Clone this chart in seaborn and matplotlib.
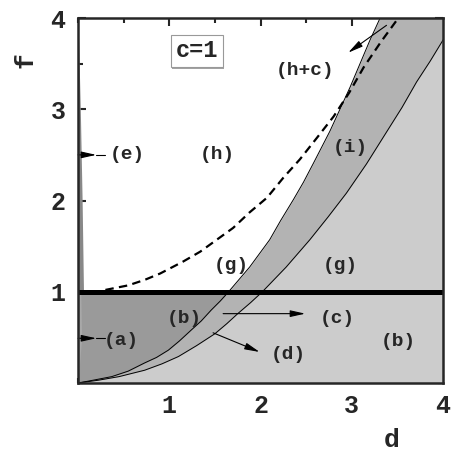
import numpy as np
import matplotlib
matplotlib.use("Agg")
import matplotlib.pyplot as plt
import matplotlib.patheffects as pe
from matplotlib.ticker import MultipleLocator
import seaborn as sns

# ------------------------------------------
# data (c = 1)
# ------------------------------------------
# upper boundary of the band (left curve)
d_left = [0.0, 0.11, 0.37, 0.55, 0.73, 0.86, 0.99, 1.11, 1.24, 1.35, 1.46, 1.56, 1.65,
          1.88, 2.10, 2.22, 2.36, 2.47, 2.58, 2.76, 2.87, 2.98, 3.09, 3.20, 3.31]
f_left = [0.0, 0.02, 0.07, 0.13, 0.22, 0.28, 0.36, 0.46, 0.58, 0.68, 0.80, 0.90, 1.00,
          1.27, 1.57, 1.78, 2.01, 2.20, 2.41, 2.76, 3.00, 3.24, 3.50, 3.76, 4.00]

# lower boundary of the band (right curve)
d_right = [0.0, 0.22, 0.45, 0.73, 0.92, 1.10, 1.30, 1.50, 1.63, 1.75, 1.89, 2.02,
           2.28, 2.54, 2.74, 2.94, 3.16, 3.38, 3.55, 3.71, 3.86, 4.00]
f_right = [0.0, 0.03, 0.07, 0.14, 0.21, 0.29, 0.41, 0.54, 0.65, 0.76, 0.88, 1.00,
           1.27, 1.57, 1.82, 2.08, 2.40, 2.75, 3.02, 3.30, 3.53, 3.76]

# dashed (h+c) line
d_dash = [0.30, 0.55, 0.73, 0.90, 1.15, 1.34, 1.52, 1.70, 1.88, 2.07, 2.25, 2.43,
          2.62, 2.80, 2.97, 3.13, 3.32, 3.51]
f_dash = [1.02, 1.07, 1.13, 1.20, 1.33, 1.44, 1.57, 1.70, 1.87, 2.03, 2.25, 2.45,
          2.69, 2.92, 3.18, 3.46, 3.74, 4.00]

# thin strip (e) along d ~ 0 for f > 1, and sliver (a) for f < 1
f_strip_e = [1.0, 2.0, 3.0, 4.0]
d_strip_e = [0.06, 0.045, 0.025, 0.0]
f_strip_a = [0.0, 0.5, 1.0]
d_strip_a = [0.0, 0.04, 0.03]

f_transition = 1.0
d_max, f_max = 4.0, 4.0

# region labels: text, d, f
labels = [
    ("(a)", 0.48, 0.47), ("(b)", 1.16, 0.71), ("(b)", 3.51, 0.46),
    ("(c)", 2.84, 0.71), ("(d)", 2.30, 0.31), ("(e)", 0.54, 2.50),
    ("(g)", 1.68, 1.29), ("(g)", 2.87, 1.29), ("(h)", 1.53, 2.50),
    ("(i)", 2.98, 2.58), ("(h+c)", 2.49, 3.43),
]
# arrows: tail (on feature) -> tip (next to label)
arrows = [
    ((0.0, 0.49), (0.20, 0.49)),
    ((0.0, 2.50), (0.20, 2.50)),
    ((1.59, 0.76), (2.49, 0.76)),
    ((1.48, 0.55), (1.99, 0.34)),
    ((3.38, 3.92), (2.96, 3.62)),
]

# ------------------------------------------
# style
# ------------------------------------------
sns.set_style("ticks")
plt.rcParams['font.family'] = ['Liberation Mono', 'DejaVu Sans Mono']
plt.rcParams['font.weight'] = 'bold'

dark, mid, light = '#9a9a9a', '#b3b3b3', '#cccccc'

fig = plt.figure(figsize=(4.63, 4.63), dpi=100)
ax = fig.add_axes([0.1685, 0.1728, 0.7885, 0.7883])

# regions
ax.axhspan(0, f_transition, color=dark, lw=0, zorder=0)
ax.fill_between(np.append(d_left, d_max), 0, np.append(f_left, f_max), color=mid, lw=0, zorder=1)
ax.fill_between(d_right, 0, f_right, color=light, lw=0, zorder=2)
ax.fill_betweenx(f_strip_e, 0, d_strip_e, color='#888888', lw=0, zorder=2)
ax.fill_betweenx(f_strip_a, 0, d_strip_a, color='#a8a8a8', lw=0, zorder=2)

# boundaries
sns.lineplot(x=d_left, y=f_left, sort=False, color='black', lw=0.7, ax=ax, zorder=3)
sns.lineplot(x=d_right, y=f_right, sort=False, color='black', lw=0.7, ax=ax, zorder=3)
sns.lineplot(x=d_dash, y=f_dash, sort=False, color='black', lw=1.6, ax=ax, zorder=4,
             dashes=False, linestyle=(0, (3.8, 2.4)))
ax.axhline(f_transition, color='black', lw=3.6, zorder=5)

# labels and arrows
for txt, x, y in labels:
    ax.text(x, y, txt, ha='center', va='center', fontsize=14, fontweight='bold', zorder=6)
for (x0, y0), (x1, y1) in arrows:
    ax.annotate('', xy=(x1, y1), xytext=(x0, y0), zorder=6,
                arrowprops=dict(arrowstyle='-|>,head_length=0.9,head_width=0.2',
                                mutation_scale=10, lw=0.8, color='black',
                                shrinkA=0, shrinkB=0))
# short tails of (a) and (e) arrows continue to the label
for (x0, y0), (x1, y1) in arrows[:2]:
    ax.plot([x1, x1 + 0.1], [y1, y1], color='black', lw=0.8, zorder=6)

# c=1 box
t = ax.text(1.30, 3.64, "c=1", ha='center', va='center', fontsize=17, fontweight='bold', zorder=7,
            bbox=dict(boxstyle='square,pad=0.2', fc='white', ec='#999999', lw=0.8))
t.get_bbox_patch().set_path_effects([pe.SimplePatchShadow(offset=(1.2, -1.2), shadow_rgbFace='0.55', alpha=0.8),
                                     pe.Normal()])

# axes
ax.set_xlim(0, d_max)
ax.set_ylim(0, f_max)
ax.xaxis.set_minor_locator(MultipleLocator(0.5))
ax.yaxis.set_minor_locator(MultipleLocator(0.5))
ax.set_xticks([1, 2, 3, 4])
ax.set_yticks([1, 2, 3, 4])
ax.tick_params(which='both', direction='in', top=True, right=True, width=1.5, labelsize=18)
ax.tick_params(which='major', length=6)
ax.tick_params(which='minor', length=3.5)
ax.tick_params(axis='x', pad=8)
ax.tick_params(axis='y', pad=9)
for lab in ax.get_xticklabels() + ax.get_yticklabels():
    lab.set_fontweight('bold')
for sp in ax.spines.values():
    sp.set_linewidth(1.8)
    sp.set_zorder(8)

ax.text(3.44, -0.62, "d", ha='center', va='center', fontsize=19, fontweight='bold', clip_on=False)
ax.text(-0.58, 3.54, "f", ha='center', va='center', fontsize=19, fontweight='bold', rotation=90, clip_on=False)

fig.savefig("out.png", dpi=100)
